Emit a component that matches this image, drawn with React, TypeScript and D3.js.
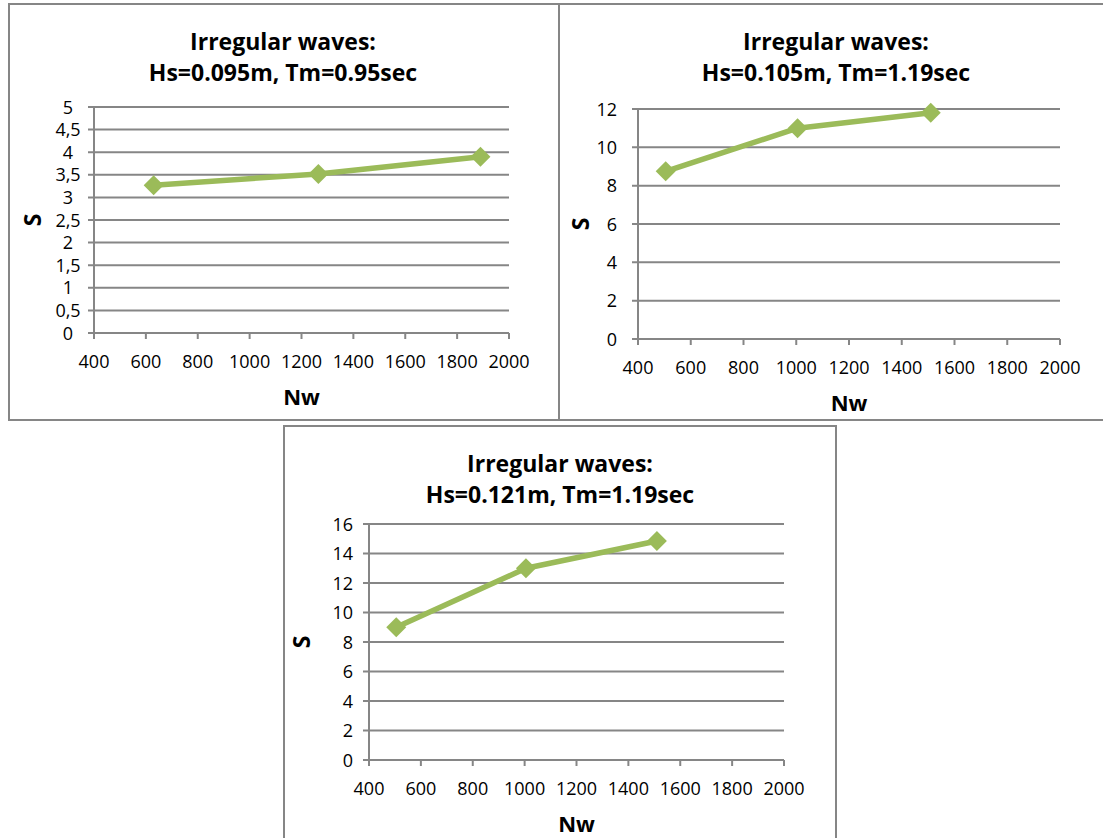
import React from 'react';
import * as d3 from 'd3';

const titleLine1 = 'Irregular waves:';
const subtitles = ['Hs=0.095m, Tm=0.95sec', 'Hs=0.105m, Tm=1.19sec', 'Hs=0.121m, Tm=1.19sec'];

const xTicks = [400, 600, 800, 1000, 1200, 1400, 1600, 1800, 2000];

const nwA = [630, 1265, 1890];
const sA = [3.27, 3.52, 3.9];
const yTicksA = [0, 0.5, 1, 1.5, 2, 2.5, 3, 3.5, 4, 4.5, 5];

const nwB = [505, 1005, 1510];
const sB = [8.75, 11.0, 11.8];
const yTicksB = [0, 2, 4, 6, 8, 10, 12];

const nwC = [505, 1005, 1510];
const sC = [9.0, 13.0, 14.85];
const yTicksC = [0, 2, 4, 6, 8, 10, 12, 14, 16];

const FONT = '"Open Sans", Lato, sans-serif';
const GREEN = '#9bbb59';
const GRID = '#868686';

function Panel({ box, plot, subtitle, xs, ys, yTicks, fmt }) {
    const x = d3.scaleLinear().domain([400, 2000]).range([plot.x0, plot.x1]);
    const y = d3
        .scaleLinear()
        .domain([0, yTicks[yTicks.length - 1]])
        .range([plot.y1, plot.y0]);

    const pts = xs.map((d, i) => [x(d), y(ys[i])]);
    const line = d3.line()(pts);
    const marker = d3.symbol(d3.symbolSquare, 200)();
    const cx = (plot.x0 + plot.x1) / 2;

    return (
        <g>
            <rect
                x={box.x}
                y={box.y}
                width={box.w}
                height={box.h}
                fill="white"
                stroke={GRID}
                strokeWidth={2}
            />
            <text
                x={box.titleX}
                y={box.y + 46}
                textAnchor="middle"
                fontFamily={FONT}
                fontWeight="bold"
                fontSize={23}
            >
                {titleLine1}
            </text>
            <text
                x={box.titleX}
                y={box.y + 77}
                textAnchor="middle"
                fontFamily={FONT}
                fontWeight="bold"
                fontSize={23}
            >
                {subtitle}
            </text>
            {yTicks.map(t => (
                <g key={t}>
                    <line
                        x1={plot.x0 - 6}
                        x2={plot.x1}
                        y1={y(t)}
                        y2={y(t)}
                        stroke={GRID}
                        strokeWidth={2}
                    />
                    <text
                        x={plot.x0 - plot.gap}
                        y={y(t) + 6.5}
                        textAnchor={plot.anchor}
                        fontFamily={FONT}
                        fontSize={18}
                    >
                        {fmt(t)}
                    </text>
                </g>
            ))}
            <line x1={plot.x0} x2={plot.x0} y1={plot.y0} y2={plot.y1 + 6} stroke={GRID} strokeWidth={2} />
            {xTicks.map(t => (
                <g key={t}>
                    <line
                        x1={x(t)}
                        x2={x(t)}
                        y1={plot.y1}
                        y2={plot.y1 + 6}
                        stroke={GRID}
                        strokeWidth={2}
                    />
                    <text
                        x={x(t)}
                        y={plot.y1 + 35}
                        textAnchor="middle"
                        fontFamily={FONT}
                        fontSize={18}
                    >
                        {t}
                    </text>
                </g>
            ))}
            <text
                x={cx}
                y={plot.y1 + 72}
                textAnchor="middle"
                fontFamily={FONT}
                fontWeight="bold"
                fontSize={22}
            >
                Nw
            </text>
            <text
                transform={`translate(${plot.sx + 8},${(plot.y0 + plot.y1) / 2}) rotate(-90)`}
                textAnchor="middle"
                fontFamily={FONT}
                fontWeight="bold"
                fontSize={23}
            >
                S
            </text>
            <path d={line} fill="none" stroke={GREEN} strokeWidth={5.5} strokeLinejoin="round" />
            {pts.map((p, i) => (
                <path
                    key={i}
                    d={marker}
                    transform={`translate(${p[0]},${p[1]}) rotate(45)`}
                    fill={GREEN}
                />
            ))}
        </g>
    );
}

export default function App() {
    const comma = t => String(t).replace('.', ',');
    return (
        <svg
            width={1103}
            height={838}
            style={{ position: 'absolute', left: 0, top: 0, background: 'white' }}
        >
            <Panel
                box={{ x: 9, y: 4, w: 550, h: 416, titleX: 283 }}
                plot={{ x0: 94, x1: 509, y0: 107, y1: 333, gap: 26, anchor: 'middle', sx: 33 }}
                subtitle={subtitles[0]}
                xs={nwA}
                ys={sA}
                yTicks={yTicksA}
                fmt={comma}
            />
            <Panel
                box={{ x: 559, y: 4, w: 550, h: 416, titleX: 836 }}
                plot={{ x0: 638, x1: 1060, y0: 109, y1: 339, gap: 21, anchor: 'end', sx: 581 }}
                subtitle={subtitles[1]}
                xs={nwB}
                ys={sB}
                yTicks={yTicksB}
                fmt={t => String(t)}
            />
            <Panel
                box={{ x: 284, y: 426, w: 552, h: 420, titleX: 560 }}
                plot={{ x0: 369, x1: 784, y0: 524, y1: 760, gap: 16, anchor: 'end', sx: 302 }}
                subtitle={subtitles[2]}
                xs={nwC}
                ys={sC}
                yTicks={yTicksC}
                fmt={t => String(t)}
            />
        </svg>
    );
}
